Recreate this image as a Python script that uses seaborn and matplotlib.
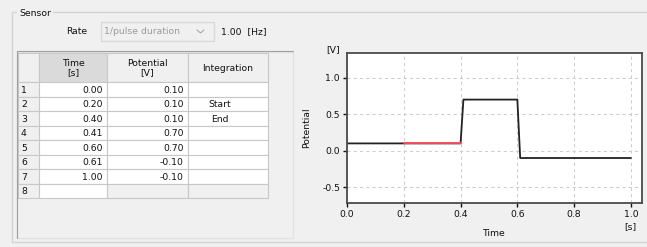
import matplotlib
matplotlib.use("Agg")
import matplotlib.pyplot as plt
import numpy as np
import pandas as pd
import seaborn as sns
from matplotlib.patches import Rectangle

# table / series data
row_ids = ["1", "2", "3", "4", "5", "6", "7", "8"]
time_s = [0.00, 0.20, 0.40, 0.41, 0.60, 0.61, 1.00]
potential_v = [0.10, 0.10, 0.10, 0.70, 0.70, -0.10, -0.10]
integration = ["", "Start", "End", "", "", "", ""]
x_ticks = [0.0, 0.2, 0.4, 0.6, 0.8, 1.0]
y_ticks = [-0.5, 0.0, 0.5, 1.0]
rate_mode = "1/pulse duration"
rate_value = "1.00"

df = pd.DataFrame({"time": time_s, "potential": potential_v, "integ": integration})
start = df.index[df["integ"] == "Start"][0]
end = df.index[df["integ"] == "End"][0]

sns.set_theme(style="white")
plt.rcParams["font.family"] = ["DejaVu Sans"]
FS = 6.7
BG = "#f0f0f0"

fig = plt.figure(figsize=(6.47, 2.47), dpi=100, facecolor=BG)

# background "widget" layer in pixel coordinates
bg = fig.add_axes([0, 0, 1, 1], zorder=0)
bg.set_xlim(0, 647)
bg.set_ylim(247, 0)
bg.axis("off")

# group box
frame = "#d4d4d4"
bg.plot([11.5, 11.5], [13, 242], color=frame, lw=1)
bg.plot([11.5, 647], [242, 242], color=frame, lw=1)
bg.plot([11.5, 16], [12.5, 12.5], color=frame, lw=1)
bg.plot([53, 647], [12.5, 12.5], color=frame, lw=1)
bg.text(19, 13, "Sensor", fontsize=FS, va="center", ha="left", color="#111111")

# rate row
bg.text(66, 31.5, "Rate", fontsize=FS, va="center", ha="left", color="#111111")
bg.add_patch(Rectangle((100.5, 22), 113, 19.5, facecolor=BG, edgecolor="#d9d9d9", lw=1))
bg.text(104, 32, rate_mode, fontsize=FS, va="center", ha="left", color="#9a9a9a")
bg.plot([197, 200.5, 204], [30, 33, 30], color="#a8a8a8", lw=0.8)
bg.text(221, 32, rate_value + "  [Hz]", fontsize=FS, va="center", ha="left", color="#111111")

# table panel
bg.add_patch(Rectangle((17, 51.5), 275.5, 186.5, facecolor=BG, edgecolor="#e2e2e2", lw=1))
bg.plot([17, 17], [51.5, 238], color="#a0a0a0", lw=0.8)
bg.plot([17, 292.5], [51.5, 51.5], color="#a0a0a0", lw=0.8)

cols = [18.3, 39.3, 106.7, 187.7, 268]
head_top, head_bot, row_h = 53.3, 82.3, 14.5
grid_c = "#c8c8c8"

# header cells
header_txt = ["", "Time\n[s]", "Potential\n[V]", "Integration"]
for j in range(4):
    fc = "#dadada" if j == 1 else BG
    bg.add_patch(Rectangle((cols[j], head_top), cols[j + 1] - cols[j], head_bot - head_top,
                           facecolor=fc, edgecolor=grid_c, lw=0.8))
    bg.text((cols[j] + cols[j + 1]) / 2, (head_top + head_bot) / 2 + 0.5, header_txt[j],
            fontsize=FS, ha="center", va="center", color="#111111", linespacing=1.05)

# body cells
for i, rid in enumerate(row_ids):
    y0 = head_bot + i * row_h
    yc = y0 + row_h / 2 + 0.5
    for j in range(4):
        if j == 0:
            fc = BG
        elif i >= len(time_s) and j > 1:
            fc = BG
        else:
            fc = "white"
        bg.add_patch(Rectangle((cols[j], y0), cols[j + 1] - cols[j], row_h,
                               facecolor=fc, edgecolor=grid_c, lw=0.8))
    bg.text(21, yc, rid, fontsize=FS, ha="left", va="center", color="#111111")
    if i < len(time_s):
        bg.text(cols[2] - 4, yc, f"{time_s[i]:.2f}", fontsize=FS, ha="right", va="center",
                color="#111111")
        bg.text(cols[3] - 4, yc, f"{potential_v[i]:.2f}", fontsize=FS, ha="right", va="center",
                color="#111111")
        if integration[i]:
            x_left = 208 if integration[i] == "Start" else 211
            bg.text(x_left, yc, integration[i], fontsize=FS, ha="left", va="center",
                    color="#111111")

# chart
ax = fig.add_axes([347 / 647, 1 - 202.7 / 247, (641.7 - 347) / 647, (202.7 - 53.3) / 247],
                  zorder=2)
ax.set_facecolor("white")
sns.lineplot(data=df, x="time", y="potential", color="#222222", lw=1.3, ax=ax,
             estimator=None, sort=False)
sns.lineplot(data=df.iloc[start:end + 1], x="time", y="potential", color="#ff5252", lw=1.3,
             ax=ax, estimator=None, sort=False)

ax.set_xlim(0, 1.038)
ax.set_ylim(-0.712, 1.334)
ax.set_xticks(x_ticks)
ax.set_yticks(y_ticks)
ax.set_xticklabels([f"{v:.1f}" for v in x_ticks])
ax.set_yticklabels([f"{v:.1f}" for v in y_ticks])
ax.grid(True, color="#cccccc", linestyle=(0, (3, 3)), lw=0.75)
ax.tick_params(axis="both", which="major", labelsize=FS, length=3, width=1.0,
               direction="out", color="#111111", labelcolor="#111111", pad=2,
               bottom=True, left=True)
for sp in ax.spines.values():
    sp.set_color("#4a4a4a")
    sp.set_linewidth(1.3)
ax.set_xlabel("")
ax.set_ylabel("")

bg.text(333, 49.5, "[V]", fontsize=FS, ha="center", va="center", color="#111111")
bg.text(307, 128, "Potential", fontsize=FS, ha="center", va="center", rotation=90,
        color="#111111")
bg.text(493, 233, "Time", fontsize=FS, ha="center", va="center", color="#111111")
bg.text(630, 227, "[s]", fontsize=FS, ha="center", va="center", color="#111111")

fig.savefig("out.png", dpi=100, facecolor=BG)
